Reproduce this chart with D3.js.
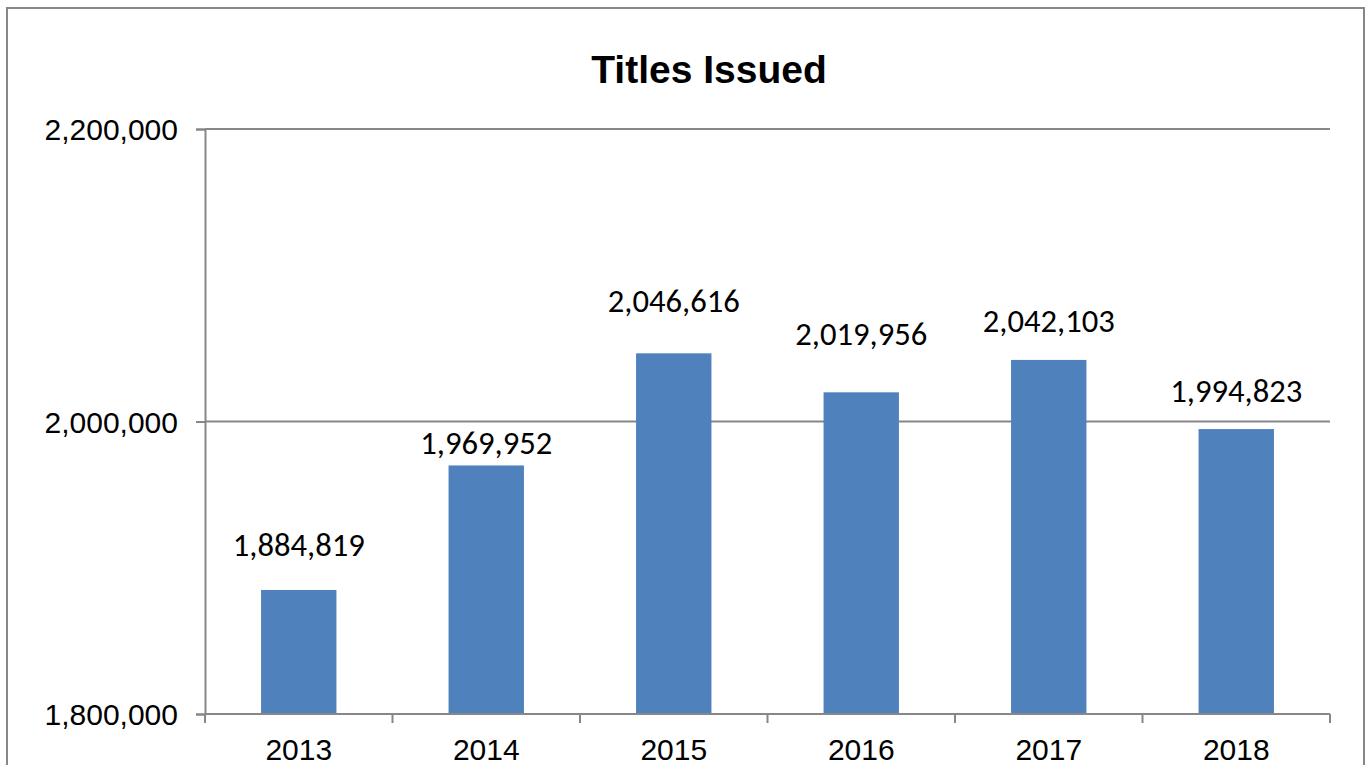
<!DOCTYPE html>
<html>
<head>
<meta charset="utf-8">
<script src="https://cdn.jsdelivr.net/npm/d3@7"></script>
<style>
  html, body { margin: 0; padding: 0; background: #fff; }
  svg { display: block; }
</style>
</head>
<body>
<svg id="chart" width="1372" height="765"></svg>
<script>
// ---- data ----
const years = ["2013", "2014", "2015", "2016", "2017", "2018"];
const titlesIssued = [1884819, 1969952, 2046616, 2019956, 2042103, 1994823];
const yTicks = [1800000, 2000000, 2200000];
const chartTitle = "Titles Issued";

// ---- layout ----
const W = 1372, H = 765;
const plot = { left: 205, right: 1330, top: 129, bottom: 714 };
// manual data-label lift above bar top (label placement in the original)
const labelLift = [34, 11, 41, 47, 28, 27];

const svg = d3.select("#chart");
const gray = "#878787";

// outer chart border
svg.append("rect")
  .attr("x", 7).attr("y", 8).attr("width", 1357).attr("height", 800)
  .attr("fill", "none").attr("stroke", gray).attr("stroke-width", 2);

const x = d3.scaleBand().domain(years).range([plot.left, plot.right]).paddingInner(0.598).paddingOuter(0.299);
const xCat = d3.scaleBand().domain(years).range([plot.left, plot.right]);
const y = d3.scaleLinear().domain([1800000, 2200000]).range([plot.bottom, plot.top]);

// gridlines
svg.append("g").selectAll("line").data(yTicks.filter(t => t > 1800000)).join("line")
  .attr("x1", plot.left).attr("x2", plot.right)
  .attr("y1", d => y(d)).attr("y2", d => y(d))
  .attr("stroke", gray).attr("stroke-width", 2);

// bars
svg.append("g").selectAll("rect").data(titlesIssued).join("rect")
  .attr("x", (d, i) => x(years[i]))
  .attr("width", x.bandwidth())
  .attr("y", d => y(d))
  .attr("height", d => plot.bottom - y(d))
  .attr("fill", "#4F81BD");

// y axis
const yAxis = d3.axisLeft(y).tickValues(yTicks).tickSize(9).tickPadding(18)
  .tickFormat(d3.format(","));
const gy = svg.append("g").attr("transform", `translate(${plot.left},0)`).call(yAxis);
gy.select(".domain").attr("stroke", gray).attr("stroke-width", 2);
gy.selectAll(".tick line").attr("stroke", gray).attr("stroke-width", 2);
gy.selectAll(".tick text")
  .attr("font-family", "'Liberation Sans', Arial, sans-serif")
  .attr("font-size", 30).attr("fill", "#000")
  .attr("dy", "0.36em");

// x axis: ticks at category boundaries
const boundaries = years.map(d => xCat(d)).concat([plot.right]);
svg.append("line")
  .attr("x1", plot.left).attr("x2", plot.right)
  .attr("y1", plot.bottom).attr("y2", plot.bottom)
  .attr("stroke", gray).attr("stroke-width", 2);
svg.append("g").selectAll("line").data(boundaries).join("line")
  .attr("x1", d => d).attr("x2", d => d)
  .attr("y1", plot.bottom).attr("y2", plot.bottom + 9)
  .attr("stroke", gray).attr("stroke-width", 2);
svg.append("g").selectAll("text").data(years).join("text")
  .attr("x", d => xCat(d) + xCat.bandwidth() / 2)
  .attr("y", 760)
  .attr("text-anchor", "middle")
  .attr("font-family", "'Liberation Sans', Arial, sans-serif")
  .attr("font-size", 30).attr("fill", "#000")
  .text(d => d);

// data labels
const fmt = d3.format(",");
const labels = svg.append("g").selectAll("text").data(titlesIssued).join("text")
  .attr("x", (d, i) => x(years[i]) + x.bandwidth() / 2)
  .attr("y", (d, i) => y(d) - labelLift[i])
  .attr("text-anchor", "middle")
  .attr("font-family", "Carlito, Calibri, Lato, sans-serif")
  .attr("font-size", 30).attr("fill", "#000")
  .text(d => fmt(d));
// fit label size to the original width (~132px for 9 chars)
const w0 = labels.node().getComputedTextLength();
if (w0 > 0) labels.attr("font-size", 30 * 132 / w0);

// title
svg.append("text")
  .attr("x", 709).attr("y", 83)
  .attr("text-anchor", "middle")
  .attr("font-family", "'Liberation Sans', Arial, sans-serif")
  .attr("font-weight", "bold")
  .attr("font-size", 39).attr("fill", "#000")
  .text(chartTitle);
</script>
</body>
</html>
